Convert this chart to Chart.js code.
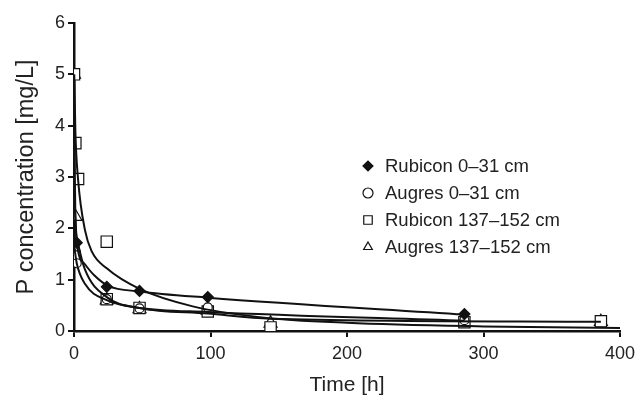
<!DOCTYPE html>
<html>
<head>
<meta charset="utf-8">
<script src="https://cdn.jsdelivr.net/npm/chart.js@4"></script>
<style>
  html, body { margin: 0; padding: 0; background: #fff; }
  #wrap { width: 639px; height: 401px; }
</style>
</head>
<body>
<div id="wrap"><canvas id="chart" width="639" height="401"></canvas></div>
<script>
// Measured points (time in h, P in mg/L)
const rubicon0Time = [2, 24, 48, 98, 286];
const rubicon0P = [1.72, 0.86, 0.78, 0.66, 0.33];
const augres0Time = [2, 24, 48, 98, 286];
const augres0P = [1.32, 0.62, 0.44, 0.46, 0.21];
const rubicon137Time = [0, 1, 3, 0.5, 24, 24, 48, 98, 144, 286, 386];
const rubicon137P = [5.0, 3.66, 2.96, 1.45, 1.74, 0.62, 0.45, 0.38, 0.07, 0.17, 0.19];
const augres137Time = [0, 1, 0.5, 24, 48, 98, 144, 386];
const augres137P = [5.0, 2.23, 1.45, 0.6, 0.43, 0.4, 0.15, 0.18];

// Fitted curves
const fitR0Time = [0.3, 2, 8, 15, 25, 48, 98, 286];
const fitR0P = [2.6, 1.72, 1.3, 1.08, 0.88, 0.77, 0.65, 0.32];
const fitA0Time = [0.4, 2, 8, 24, 48, 98, 286];
const fitA0P = [1.6, 1.32, 0.92, 0.6, 0.45, 0.37, 0.2];
const fitR137Time = [0.2, 1, 3, 8, 13, 24, 48, 87, 136, 200, 300, 400];
const fitR137P = [5.0, 3.9, 2.95, 1.97, 1.55, 1.22, 0.82, 0.48, 0.27, 0.16, 0.09, 0.06];
const fitA137Time = [0.3, 1, 3, 8, 24, 48, 98, 144, 386];
const fitA137P = [3.8, 2.25, 1.7, 1.2, 0.66, 0.45, 0.34, 0.24, 0.18];

const seriesNames = ['Rubicon 0\u201331 cm', 'Augres 0\u201331 cm', 'Rubicon 137\u2013152 cm', 'Augres 137\u2013152 cm'];
const xTicks = [0, 100, 200, 300, 400];
const yTicks = [0, 1, 2, 3, 4, 5, 6];

function pts(xs, ys) {
    return xs.map((x, i) => ({ x: x, y: ys[i] }));
}

function fitSet(xs, ys) {
    return {
        data: pts(xs, ys),
        showLine: true,
        borderColor: '#111',
        borderWidth: 2,
        pointRadius: 0,
        cubicInterpolationMode: 'monotone',
        fill: false,
        isFit: true
    };
}

function markSet(name, xs, ys, style, radius, bg) {
    return {
        label: name,
        data: pts(xs, ys),
        showLine: false,
        pointStyle: style,
        pointRadius: radius,
        pointBackgroundColor: bg,
        pointBorderColor: '#111',
        pointBorderWidth: 1.2
    };
}

const font = "'Liberation Sans', Arial, sans-serif";

// Legend drawn inside the plot area
const innerLegend = {
    id: 'innerLegend',
    afterDatasetsDraw(chart) {
        const ctx = chart.ctx;
        const marks = chart.data.datasets.filter(d => !d.isFit);
        let y = 166;
        ctx.save();
        ctx.font = '18.5px ' + font;
        ctx.textBaseline = 'middle';
        marks.forEach(d => {
            ctx.strokeStyle = '#111';
            ctx.fillStyle = d.pointBackgroundColor;
            ctx.lineWidth = 1.2;
            Chart.helpers.drawPoint(ctx, { pointStyle: d.pointStyle, radius: d.pointStyle === 'rect' ? 6 : 5, borderWidth: 1.2 }, 368, y);
            ctx.fillStyle = '#222';
            ctx.fillText(d.label, 385, y + 1);
            y += 27;
        });
        ctx.restore();
    }
};

new Chart(document.getElementById('chart'), {
    type: 'scatter',
    data: {
        datasets: [
            fitSet(fitR0Time, fitR0P),
            fitSet(fitA0Time, fitA0P),
            fitSet(fitR137Time, fitR137P),
            fitSet(fitA137Time, fitA137P),
            markSet(seriesNames[0], rubicon0Time, rubicon0P, 'rectRot', 5.5, '#111'),
            markSet(seriesNames[1], augres0Time, augres0P, 'circle', 4.5, '#fff'),
            markSet(seriesNames[2], rubicon137Time, rubicon137P, 'rect', 8, '#fff'),
            markSet(seriesNames[3], augres137Time, augres137P, 'triangle', 7.5, '#fff')
        ]
    },
    options: {
        responsive: false,
        animation: false,
        layout: { padding: { left: 0, right: 19, top: 23, bottom: 0 } },
        plugins: {
            legend: { display: false },
            tooltip: { enabled: false }
        },
        scales: {
            x: {
                type: 'linear',
                min: 0,
                max: 400,
                afterBuildTicks: s => { s.ticks = xTicks.map(v => ({ value: v })); },
                border: { color: '#111', width: 2.5 },
                grid: { drawOnChartArea: false, drawTicks: true, tickLength: 6, color: '#111', lineWidth: 2 },
                ticks: { color: '#222', font: { family: font, size: 18 }, padding: 6 },
                title: { display: true, text: 'Time [h]', color: '#222', font: { family: font, size: 21 }, padding: { top: 6, bottom: 3 } },
                afterFit: s => { s.height = 70; s.paddingLeft = 0; s.paddingRight = 0; }
            },
            y: {
                min: 0,
                max: 6,
                afterBuildTicks: s => { s.ticks = yTicks.map(v => ({ value: v })); },
                border: { color: '#111', width: 2.5 },
                grid: { drawOnChartArea: false, drawTicks: true, tickLength: 6, color: '#111', lineWidth: 2 },
                ticks: { color: '#222', font: { family: font, size: 18 }, padding: 3 },
                title: { display: true, text: 'P concentration [mg/L]', color: '#222', font: { family: font, size: 23.5 }, padding: { top: 12, bottom: 4 } },
                afterFit: s => { s.width = 74; s.paddingTop = 0; s.paddingBottom = 0; }
            }
        }
    },
    plugins: [innerLegend]
});
</script>
</body>
</html>
